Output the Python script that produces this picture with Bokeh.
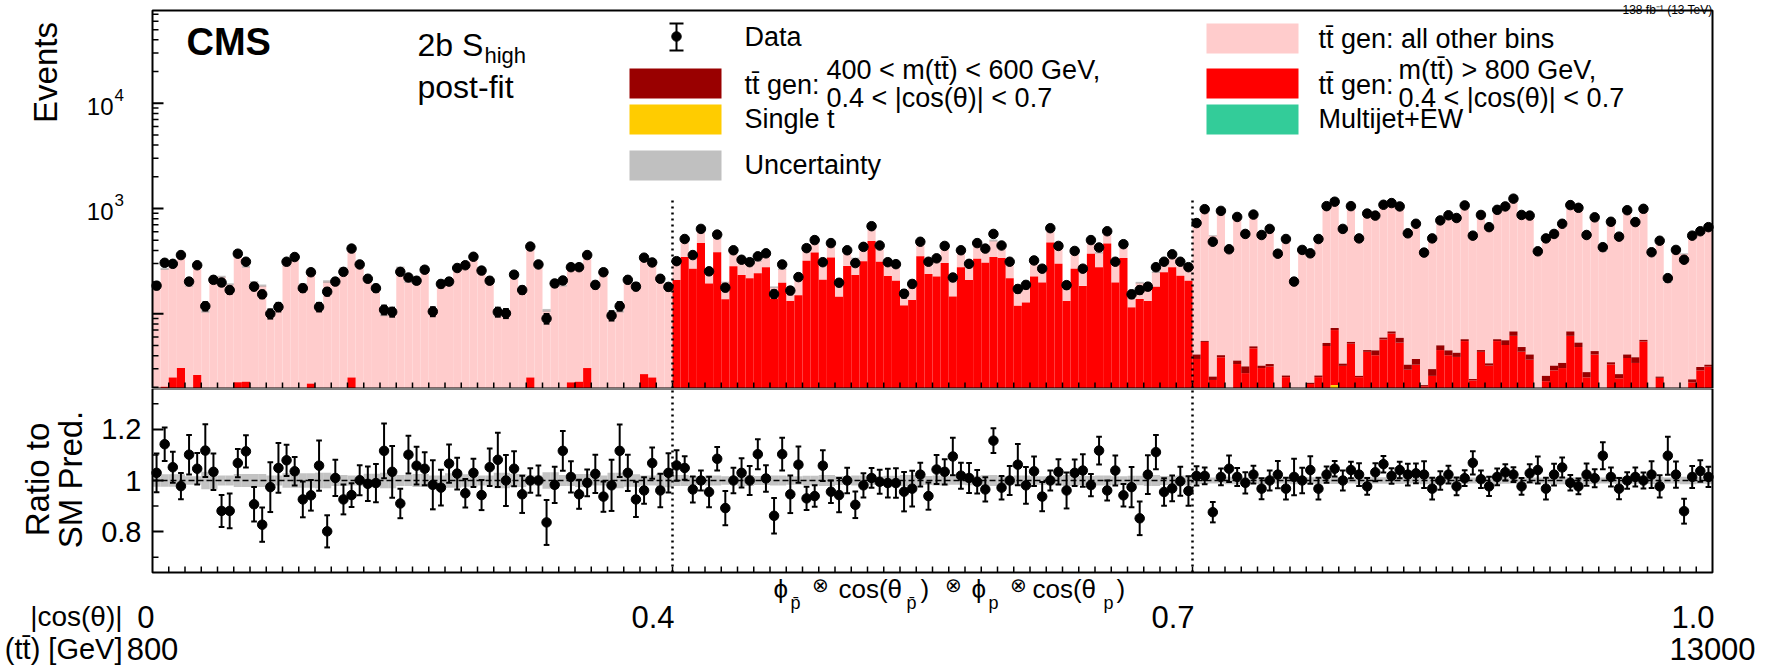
import numpy as np
from bokeh.plotting import figure
from bokeh.layouts import column
from bokeh.models import Range1d, Label
from bokeh.embed import file_html
from bokeh.resources import INLINE

# ---------------- data ----------------
# 192 bins: |cos(theta)| in [0,0.4), [0.4,0.7), [0.7,1.0] (64 bins each), m(tt) > 800 GeV
data_r1 = [185, 305, 298, 361, 202, 289, 118, 210, 198, 168, 372, 312, 181, 153, 100, 116,
           312, 346, 175, 248, 116, 162, 202, 250, 416, 294, 215, 175, 109, 104, 250, 221,
           206, 262, 105, 192, 202, 272, 289, 348, 257, 206, 104, 101, 235, 168, 435, 294,
           90, 194, 207, 277, 277, 361, 188, 248, 96, 118, 210, 181, 341, 307, 215, 180]
data_r2 = [316, 513, 361, 640, 253, 565, 177, 401, 326, 309, 351, 375, 154, 294, 166, 223,
           420, 501, 309, 469, 197, 401, 303, 432, 679, 445, 309, 296, 155, 192, 483, 312,
           336, 441, 221, 401, 298, 469, 416, 573, 445, 312, 172, 188, 321, 268, 650, 441,
           187, 395, 268, 501, 426, 608, 312, 458, 153, 168, 181, 277, 312, 367, 312, 277]
data_r3 = [727, 985, 483, 949, 410, 831, 573, 875, 560, 640, 372, 513, 202, 404, 375, 513,
           1053, 1160, 640, 1053, 520, 895, 856, 1085, 1126, 1046, 581, 716, 381, 520, 771, 862,
           812, 1069, 552, 868, 665, 971, 1046, 1240, 868, 856, 392, 520, 573, 716, 1077, 1015,
           560, 824, 429, 748, 540, 963, 743, 993, 384, 494, 218, 404, 326, 552, 608, 665]

# data / SM prediction
ratio_r1 = [1.030, 1.142, 1.052, 0.978, 1.101, 1.046, 1.117, 1.034, 0.881, 0.881, 1.068, 1.114,
            0.907, 0.827, 0.974, 1.049, 1.079, 1.036, 0.926, 0.942, 1.058, 0.801, 1.010, 0.926,
            0.943, 1.001, 0.987, 0.990, 1.116, 1.034, 0.910, 1.101, 1.058, 1.046, 0.983, 0.972,
            1.066, 1.027, 0.950, 1.030, 0.943, 1.052, 1.081, 1.000, 1.046, 0.946, 1.000, 1.000,
            0.836, 0.983, 1.116, 1.014, 0.946, 0.991, 1.026, 0.937, 0.981, 1.116, 1.030, 0.926,
            0.961, 1.068, 0.961, 1.030]
ratio_r2 = [1.059, 1.049, 0.965, 1.000, 0.955, 1.085, 0.892, 1.000, 1.030, 1.000, 1.103, 1.008,
            0.862, 1.103, 0.946, 1.062, 0.930, 0.939, 1.058, 0.956, 0.943, 1.000, 0.905, 0.981,
            1.010, 0.995, 0.990, 0.990, 0.956, 0.968, 1.023, 0.939, 1.043, 1.034, 1.094, 1.019,
            1.010, 0.995, 0.965, 1.156, 0.972, 1.000, 1.062, 0.981, 1.036, 0.937, 1.000, 1.034,
            0.961, 1.030, 1.039, 0.982, 1.117, 0.961, 1.039, 0.942, 0.974, 0.852, 1.023, 1.111,
            0.955, 0.969, 0.997, 0.959]
ratio_r3 = [1.018, 1.018, 0.876, 1.014, 1.046, 1.014, 0.991, 1.023, 0.968, 1.000, 1.023, 0.968,
            1.014, 1.000, 1.041, 0.968, 1.023, 1.046, 1.000, 1.041, 1.023, 0.977, 1.032, 1.064,
            1.018, 1.041, 1.023, 1.028, 1.023, 0.968, 1.000, 1.023, 0.977, 1.009, 1.069, 1.005,
            0.977, 1.014, 1.032, 1.023, 0.977, 1.028, 1.041, 0.968, 1.023, 1.051, 0.991, 0.977,
            1.023, 1.009, 1.097, 1.014, 0.968, 1.000, 1.014, 1.000, 1.023, 0.977, 1.097, 1.023,
            0.880, 1.014, 1.037, 1.014]

# tt gen: m(tt) > 800 GeV, 0.4 < |cos| < 0.7  (red)
red_r1 = [0, 20.3, 24.8, 30.5, 0, 26.2, 0, 0, 0, 0, 22.3, 22.6, 0, 0, 0, 0,
          0, 0, 0, 21.7, 0, 0, 0, 0, 24.8, 0, 0, 0, 0, 0, 0, 0,
          0, 0, 0, 0, 0, 19.2, 0, 0, 0, 0, 0, 0, 0, 0, 24.8, 0,
          0, 0, 0, 22.3, 22.6, 30.5, 0, 0, 0, 0, 0, 0, 26.7, 24.8, 0, 0]
red_r2 = [209, 346, 268, 469, 194, 384, 137, 283, 233, 218, 242, 277, 140, 197, 132, 150,
          319, 381, 210, 343, 145, 285, 233, 316, 490, 312, 228, 206, 120, 135, 351, 238,
          226, 303, 146, 277, 209, 333, 305, 346, 338, 217, 119, 128, 226, 198, 476, 298,
          132, 267, 184, 372, 277, 465, 198, 338, 115, 138, 132, 181, 248, 277, 230, 206]
red_r3 = [37.2, 54, 23.5, 38.6, 0, 33.3, 27.3, 47, 30.5, 31.6, 0, 25, 0, 0, 21.5, 25,
          49.4, 49, 32, 52, 25, 43.5, 40.4, 57, 45.4, 33.6, 29.4, 32.8, 20.5, 25.7, 45.2, 40.4,
          38.9, 55, 23.3, 43.5, 32.2, 55, 50.5, 42.1, 43.6, 36.6, 19.2, 22.9, 29.0, 30.5, 61.7, 48.3,
          24.9, 41.0, 0, 33, 24.4, 38, 34.1, 54.5, 0, 24.6, 0, 0, 0, 22.3, 29, 31.5]
# tt gen: 400 < m(tt) < 600 GeV, 0.4 < |cos| < 0.7  (dark red), only visible in region 3
dred_r3 = [3.8, 1.2, 1.8, 1.8, 0, 2.6, 4.3, 2, 1.6, 1.7, 0, 0.9, 0, 0, 0.6, 0.9,
           3.4, 3.2, 1.6, 2, 0.7, 1.7, 4.5, 2.4, 2.9, 5.8, 3.4, 4.4, 0.5, 4.1, 4.9, 4.5,
           3.7, 2.3, 0.7, 1.7, 1.6, 2.3, 5.5, 6.2, 4.7, 4.4, 0.3, 2.8, 3.1, 3.6, 6.2, 4.9,
           3.0, 3.2, 0, 1.6, 2.3, 3, 4.5, 2, 0, 0.7, 0, 0, 0, 1.5, 2.2, 1.3]
# single top (yellow), only visible in a few bins of region 3
stop_r3 = [0, 0, 0, 0, 0, 0, 0, 0, 0, 0, 0, 0, 0, 0, 0, 0,
           0, 21, 0, 0, 0, 0, 0, 0, 19.6, 19.6, 0, 0, 0, 0, 0, 0,
           0, 0, 0, 0, 0, 0, 0, 19.6, 0, 0, 0, 0, 0, 0, 0, 0,
           0, 0, 0, 0, 0, 0, 0, 0, 0, 0, 0, 0, 0, 0, 0, 0]
# relative uncertainty of the prediction
unc_r1 = [0.024, 0.024, 0.024, 0.024, 0.017, 0.017, 0.034, 0.034, 0.020, 0.020, 0.025, 0.025,
          0.025, 0.025, 0.020, 0.020, 0.028, 0.028, 0.028, 0.028, 0.030, 0.030, 0.022, 0.022,
          0.020, 0.020, 0.026, 0.026, 0.030, 0.030, 0.022, 0.022, 0.025, 0.025, 0.020, 0.020,
          0.028, 0.028, 0.024, 0.024, 0.020, 0.020, 0.030, 0.030, 0.025, 0.025, 0.020, 0.020,
          0.032, 0.032, 0.022, 0.022, 0.025, 0.025, 0.020, 0.020, 0.030, 0.030, 0.024, 0.024,
          0.020, 0.020, 0.026, 0.026]
unc_r2 = [0.022, 0.022, 0.018, 0.018, 0.020, 0.020, 0.017, 0.017, 0.022, 0.022, 0.018, 0.018,
          0.020, 0.020, 0.017, 0.017, 0.019, 0.019, 0.022, 0.022, 0.018, 0.018, 0.020, 0.020,
          0.017, 0.017, 0.019, 0.019, 0.022, 0.022, 0.018, 0.018, 0.020, 0.020, 0.017, 0.017,
          0.019, 0.019, 0.022, 0.022, 0.018, 0.018, 0.020, 0.020, 0.017, 0.017, 0.019, 0.019,
          0.022, 0.022, 0.018, 0.018, 0.020, 0.020, 0.017, 0.017, 0.019, 0.019, 0.022, 0.022,
          0.018, 0.018, 0.020, 0.020]
unc_r3 = [0.014, 0.014, 0.012, 0.012, 0.015, 0.015, 0.013, 0.013, 0.014, 0.014, 0.012, 0.012,
          0.015, 0.015, 0.013, 0.013, 0.014, 0.014, 0.012, 0.012, 0.015, 0.015, 0.013, 0.013,
          0.014, 0.014, 0.012, 0.012, 0.015, 0.015, 0.013, 0.013, 0.014, 0.014, 0.012, 0.012,
          0.015, 0.015, 0.013, 0.013, 0.014, 0.014, 0.012, 0.012, 0.015, 0.015, 0.013, 0.013,
          0.014, 0.014, 0.012, 0.012, 0.015, 0.015, 0.013, 0.013, 0.014, 0.014, 0.012, 0.012,
          0.015, 0.015, 0.013, 0.013]

# axis tick labels
cos_edges = ["0", "0.4", "0.7", "1.0"]
mass_edges = ["800", "13000"]
ratio_ticks = [0.8, 1.0, 1.2]
ratio_tick_labels = ["0.8", "1", "1.2"]
ratio_minor = [0.7, 0.9, 1.1, 1.3]

# ---------------- derived ----------------
NB = 192
data = np.array(data_r1 + data_r2 + data_r3, dtype=float)
ratio = np.array(ratio_r1 + ratio_r2 + ratio_r3, dtype=float)
pred = data / ratio
red = np.array(red_r1 + red_r2 + red_r3, dtype=float)
dred = np.array([0.0] * 128 + dred_r3)
stop = np.array([0.0] * 128 + stop_r3)
unc = np.array(unc_r1 + unc_r2 + unc_r3)
left = np.arange(NB, dtype=float)
right = left + 1.0
cen = left + 0.5
err = np.sqrt(data)
rerr = err / pred

FONT = "Liberation Sans"
PINK, RED, DRED, YEL, GRN, GRY = "#ffcccc", "#ff0000", "#990000", "#ffcc00", "#33cc99", "#c0c0c0"

YMIN, YMAX = 19.5, 76000.0
RMIN, RMAX = 0.64, 1.36
W, H1, H2 = 1767, 388, 282
FL, FR, FT1 = 152, 1712, 10          # frame edges in page pixels
RB = 572                              # bottom of the ratio frame (page px)
LMIN, LMAX = np.log10(YMIN), np.log10(YMAX)
PXB = (FR - FL) / NB                  # pixels per bin

c0 = np.maximum(stop, YMIN)
c1 = np.maximum(stop + red, YMIN)
c2 = np.maximum(stop + red + dred, YMIN)


def lx(px):
    return (px - FL) / PXB


def uy(py):
    return 10 ** (LMAX - (py - FT1) / (H1 - FT1) * (LMAX - LMIN))


def upx(v):
    return FT1 + (LMAX - np.log10(v)) / (LMAX - LMIN) * (H1 - FT1)


def ry(py):
    return RMAX - (py - H1) / (RB - H1) * (RMAX - RMIN)


def label(p, px, y, text, size, align="left", baseline="middle", bold=False, angle=0.0):
    p.add_layout(Label(x=lx(px), y=y, text=text, text_font=FONT, text_font_size=f"{size}px",
                       text_align=align, text_baseline=baseline, angle=angle,
                       text_font_style="bold" if bold else "normal", text_color="black"))


def bare(h, yr, log=False):
    p = figure(width=W, height=h, x_range=Range1d(lx(0), lx(W)), y_range=yr,
               y_axis_type="log" if log else "linear", x_axis_location=None,
               y_axis_location=None, output_backend="svg", toolbar_location=None,
               min_border=0, title=None)
    p.min_border_left = p.min_border_right = p.min_border_top = p.min_border_bottom = 0
    p.outline_line_color = None
    p.grid.visible = False
    return p


# ---------------- upper panel ----------------
p1 = bare(H1, Range1d(YMIN, uy(0)), log=True)

# stack: single t, tt(m>800, 0.4-0.7), tt(400-600), tt other bins
p1.quad(left=left, right=right, bottom=c2, top=pred, fill_color=PINK, line_color=None)
p1.quad(left=left, right=right, bottom=c0, top=c1, fill_color=RED, line_color=None)
p1.quad(left=left, right=right, bottom=c1, top=c2, fill_color=DRED, line_color=None)
p1.quad(left=left, right=right, bottom=YMIN, top=c0, fill_color=YEL, line_color=None)
p1.quad(left=left, right=right, bottom=pred * (1 - unc), top=pred * (1 + unc),
        fill_color="#9a9a9a", fill_alpha=0.6, line_color=None)

# region separators
sep = [64, 128]
p1.segment(sep, YMIN, sep, uy(199), line_color="black", line_width=2.5, line_dash="2 4")

# data
p1.segment(cen, data - err, cen, data + err, line_color="black", line_width=2)
p1.segment(cen - 0.35, data + err, cen + 0.35, data + err, line_color="black", line_width=2)
p1.segment(cen - 0.35, data - err, cen + 0.35, data - err, line_color="black", line_width=2)
p1.scatter(cen, data, size=9.5, color="black")

# frame and ticks
p1.quad(left=[0], right=[NB], bottom=[YMIN], top=[YMAX], fill_color=None,
        line_color="black", line_width=2)
tx = np.arange(2, NB, 2)
p1.segment(tx, YMIN, tx, uy(H1 - 6), line_color="black", line_width=1.5)
ymaj = [100, 1000, 10000]
ymin_t = [m * 10 ** e for e in (1, 2, 3, 4) for m in range(2, 10) if YMIN < m * 10 ** e < YMAX]
p1.segment(0, ymaj, lx(FL + 11), ymaj, line_color="black", line_width=2)
p1.segment(0, ymin_t, lx(FL + 6), ymin_t, line_color="black", line_width=1.5)

# y tick labels and title
for v, e in ((1000, "3"), (10000, "4")):
    label(p1, 113, uy(upx(v) + 3), "10", 24, align="right")
    label(p1, 114, uy(upx(v) - 8), e, 17)
label(p1, 45, uy(72), "Events", 33, align="center", angle=np.pi / 2)

# texts
label(p1, 186, uy(41), "CMS", 38, bold=True)
label(p1, 417, uy(44), "2b S", 32)
label(p1, 484, uy(55), "high", 22)
label(p1, 417, uy(86), "post-fit", 32)
label(p1, FR, uy(9), "138 fb\u207b\u00b9 (13 TeV)", 12, align="right", baseline="alphabetic")

# legend, left column
p1.segment([lx(676)], [uy(23)], [lx(676)], [uy(50)], line_color="black", line_width=2)
p1.segment([lx(669), lx(669)], [uy(23), uy(50)], [lx(683), lx(683)], [uy(23), uy(50)],
           line_color="black", line_width=2)
p1.scatter([lx(676)], [uy(36)], size=9.5, color="black")
label(p1, 744, uy(36), "Data", 27)
for top_px, col in ((68, DRED), (104, YEL), (150, GRY)):
    p1.quad(left=[lx(629)], right=[lx(721)], top=[uy(top_px)], bottom=[uy(top_px + 30)],
            fill_color=col, line_color=None)
label(p1, 744, uy(84), "t\u0074\u0304 gen:", 27)
label(p1, 826, uy(69), "400 < m(t\u0074\u0304) < 600 GeV,", 27)
label(p1, 826, uy(97), "0.4 < |cos(\u03b8)| < 0.7", 27)
label(p1, 744, uy(118), "Single t", 27)
label(p1, 744, uy(164), "Uncertainty", 27)

# legend, right column
for top_px, col in ((23, PINK), (68, RED), (104, GRN)):
    p1.quad(left=[lx(1206)], right=[lx(1298)], top=[uy(top_px)], bottom=[uy(top_px + 30)],
            fill_color=col, line_color=None)
label(p1, 1318, uy(38), "t\u0074\u0304 gen: all other bins", 27)
label(p1, 1318, uy(84), "t\u0074\u0304 gen:", 27)
label(p1, 1398, uy(69), "m(t\u0074\u0304) > 800 GeV,", 27)
label(p1, 1398, uy(97), "0.4 < |cos(\u03b8)| < 0.7", 27)
label(p1, 1318, uy(118), "Multijet+EW", 27)

# ---------------- ratio panel ----------------
p2 = bare(H2, Range1d(ry(H1 + H2), ry(H1)))

p2.quad(left=left, right=right, bottom=1 - unc, top=1 + unc, fill_color="#b8b8b8",
        fill_alpha=0.85, line_color=None)
p2.segment([0], [1.0], [NB], [1.0], line_color="black", line_width=1.5, line_dash="6 3")
p2.segment(sep, RMIN, sep, RMAX, line_color="black", line_width=2.5, line_dash="2 4")
lo = np.clip(ratio - rerr, RMIN, RMAX)
hi = np.clip(ratio + rerr, RMIN, RMAX)
p2.segment(cen, lo, cen, hi, line_color="black", line_width=2)
p2.segment(cen - 0.35, hi, cen + 0.35, hi, line_color="black", line_width=2)
p2.segment(cen - 0.35, lo, cen + 0.35, lo, line_color="black", line_width=2)
p2.scatter(cen, ratio, size=9.5, color="black")

# frame and ticks
p2.quad(left=[0], right=[NB], bottom=[RMIN], top=[RMAX], fill_color=None,
        line_color="black", line_width=2)
p2.segment(tx, RMIN, tx, ry(RB - 6), line_color="black", line_width=1.5)
p2.segment(0, ratio_ticks, lx(FL + 11), ratio_ticks, line_color="black", line_width=2)
p2.segment(0, ratio_minor, lx(FL + 6), ratio_minor, line_color="black", line_width=1.5)

for v, t in zip(ratio_ticks, ratio_tick_labels):
    label(p2, 141, v, t, 29, align="right")
label(p2, 37, ry(479), "Ratio to", 33, align="center", angle=np.pi / 2)
label(p2, 70, ry(479), "SM Pred.", 33, align="center", angle=np.pi / 2)

# x axis title: phi_pbar (x) cos(theta_pbar) (x) phi_p (x) cos(theta_p)
title_pieces = [
    (773, "\u03d5", 26, 588), (790, "p\u0304", 18, 602), (811, "\u2297", 20, 584),
    (838, "cos(\u03b8", 26, 588), (906, "p\u0304", 18, 602), (920, ")", 26, 588),
    (944, "\u2297", 20, 584), (971, "\u03d5", 26, 588), (988, "p", 18, 602),
    (1009, "\u2297", 20, 584), (1032, "cos(\u03b8", 26, 588), (1103, "p", 18, 602),
    (1116, ")", 26, 588),
]
for px, t, s, py in title_pieces:
    label(p2, px, ry(py), t, s)

# unrolled bin-edge labels
edge_px = [FL, FL + 520, FL + 1040, FR]
for px, t in zip(edge_px, cos_edges):
    label(p2, px + 2, ry(616), t, 31, align="right")
label(p2, 122, ry(616), "|cos(\u03b8)|", 28, align="right")
label(p2, 122, ry(648), "(t\u0074\u0304) [GeV]", 29, align="right")
label(p2, edge_px[0], ry(648), mass_edges[0], 31, align="center")
label(p2, edge_px[3], ry(648), mass_edges[1], 31, align="center")

layout = column(p1, p2)
open("out.html", "w").write(file_html(layout, INLINE))
